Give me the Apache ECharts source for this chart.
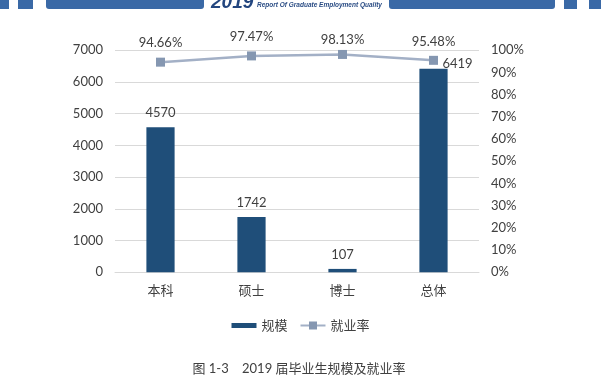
<!DOCTYPE html>
<html><head><meta charset="utf-8">
<script src="https://cdn.jsdelivr.net/npm/echarts@6/dist/echarts.min.js"></script>
<style>html,body{margin:0;padding:0;background:#fff}#c{width:601px;height:383px}</style>
</head><body><div id="c"></div>
<script>
const categories = ['本科', '硕士', '博士', '总体'];
const scaleValues = [4570, 1742, 107, 6419];
const rateValues = [94.66, 97.47, 98.13, 95.48];
const leftTicks = {min: 0, max: 7000, interval: 1000};
const rightTicks = {min: 0, max: 100, interval: 10};
const captionText = '图 1-3    2019 届毕业生规模及就业率';

const FONT = 'Lato, "Noto Sans CJK SC", sans-serif';
const chart = echarts.init(document.getElementById('c'), null, {renderer: 'canvas'});
const blue = '#3a69a6';
chart.setOption({
  animation: false,
  grid: {left: 115, right: 122, top: 50.3, bottom: 110.7},
  legend: {
    top: 314, left: 'center', itemWidth: 25, itemHeight: 10, itemGap: 12,
    textStyle: {fontFamily: FONT, fontSize: 13, color: '#404040'},
    data: [
      {name: '规模', icon: 'path://M0,0 H25 V5 H0 Z'},
      {name: '就业率'}
    ]
  },
  xAxis: {
    type: 'category', data: categories,
    axisLine: {lineStyle: {color: '#d9d9d9', width: 1}},
    axisTick: {show: false},
    axisLabel: {fontFamily: FONT, fontSize: 13, color: '#404040', margin: 12}
  },
  yAxis: [
    {type: 'value', min: leftTicks.min, max: leftTicks.max, interval: leftTicks.interval,
     axisLine: {show: false}, axisTick: {show: false},
     splitLine: {lineStyle: {color: '#d9d9d9', width: 1}},
     axisLabel: {fontFamily: FONT, fontSize: 13, color: '#404040', margin: 12, formatter: v => String(v)}},
    {type: 'value', min: rightTicks.min, max: rightTicks.max, interval: rightTicks.interval,
     axisLine: {show: false}, axisTick: {show: false}, splitLine: {show: false},
     axisLabel: {fontFamily: FONT, fontSize: 13, color: '#404040', margin: 12, formatter: '{value}%'}}
  ],
  series: [
    {name: '规模', type: 'bar', yAxisIndex: 0, barWidth: '31%',
     itemStyle: {color: '#1f4e79'},
     data: scaleValues.map((v, i) => i === 3 ? {value: v, label: {offset: [24, 10]}} : v),
     label: {show: true, position: 'top', distance: 8, fontFamily: FONT, fontSize: 13, color: '#404040'}},
    {name: '就业率', type: 'line', yAxisIndex: 1, symbol: 'rect', symbolSize: 9,
     lineStyle: {color: '#a3b0c6', width: 2.5},
     itemStyle: {color: '#8597b1'},
     data: rateValues.map((v, i) => i === 2 ? {value: v, label: {offset: [0, 4]}} : v),
     label: {show: true, position: 'top', distance: 8, fontFamily: FONT, fontSize: 13, color: '#404040',
       formatter: p => p.value.toFixed(2) + '%'}}
  ],
  graphic: [
    {type: 'rect', shape: {x: 0, y: 0, width: 9, height: 9}, style: {fill: blue}},
    {type: 'rect', shape: {x: 18, y: 0, width: 15, height: 9}, style: {fill: blue}},
    {type: 'rect', shape: {x: 46, y: -5, width: 158, height: 14, r: 3}, style: {fill: blue}},
    {type: 'rect', shape: {x: 389, y: -5, width: 166, height: 14, r: 3}, style: {fill: blue}},
    {type: 'rect', shape: {x: 564, y: 0, width: 13, height: 9}, style: {fill: blue}},
    {type: 'rect', shape: {x: 589, y: 0, width: 12, height: 9}, style: {fill: blue}},
    {type: 'text', x: 211, y: 12, style: {text: '2019', fill: '#23467f', font: 'italic bold 19px "Liberation Sans", Arial, sans-serif', verticalAlign: 'bottom', align: 'left'}},
    {type: 'text', x: 257, y: 9, style: {text: 'Report Of Graduate Employment Quality', fill: '#2a4c84', font: 'italic bold 6.5px "Liberation Sans Narrow", "Liberation Sans", sans-serif', verticalAlign: 'bottom', align: 'left'}},
    {type: 'text', x: 299, y: 369, style: {text: captionText, fill: '#404040', font: '13px ' + FONT, align: 'center', verticalAlign: 'middle'}}
  ]
});
</script></body></html>
